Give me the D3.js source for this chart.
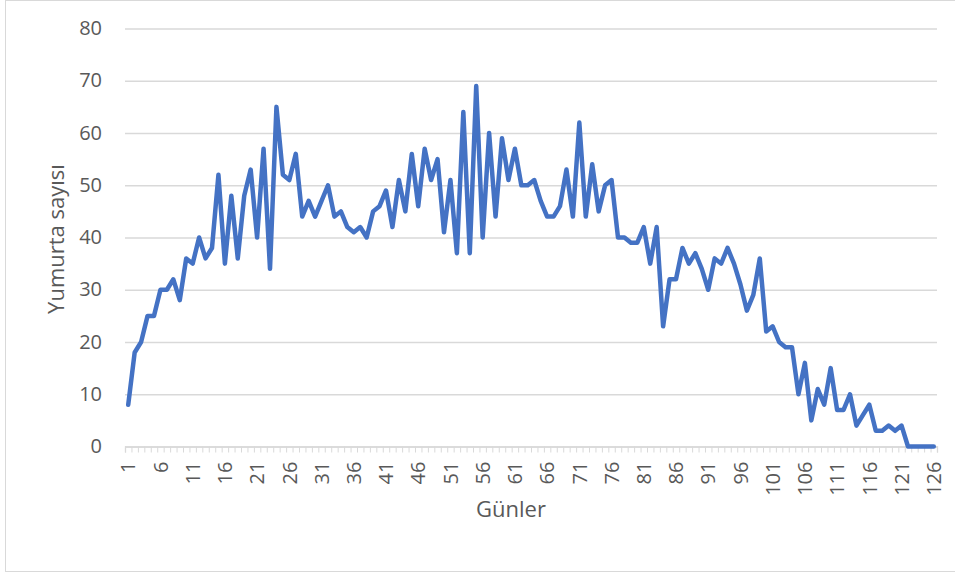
<!DOCTYPE html>
<html>
<head>
<meta charset="utf-8">
<script src="https://cdn.jsdelivr.net/npm/d3@7"></script>
<style>
  html, body { margin: 0; padding: 0; background: #ffffff; }
  svg { display: block; }
  text { font-family: "Open Sans", "Noto Sans", sans-serif; fill: #595959; }
</style>
</head>
<body>
<svg id="chart" width="955" height="574"></svg>
<script>
// Daily egg counts (Yumurta sayısı) over 126 days (Günler)
const days = d3.range(1, 127);
const eggs = [
  8, 18, 20, 25, 25, 30, 30, 32, 28, 36,
  35, 40, 36, 38, 52, 35, 48, 36, 48, 53,
  40, 57, 34, 65, 52, 51, 56, 44, 47, 44,
  47, 50, 44, 45, 42, 41, 42, 40, 45, 46,
  49, 42, 51, 45, 56, 46, 57, 51, 55, 41,
  51, 37, 64, 37, 69, 40, 60, 44, 59, 51,
  57, 50, 50, 51, 47, 44, 44, 46, 53, 44,
  62, 44, 54, 45, 50, 51, 40, 40, 39, 39,
  42, 35, 42, 23, 32, 32, 38, 35, 37, 34,
  30, 36, 35, 38, 35, 31, 26, 29, 36, 22,
  23, 20, 19, 19, 10, 16, 5, 11, 8, 15,
  7, 7, 10, 4, 6, 8, 3, 3, 4, 3,
  4, 0, 0, 0, 0, 0
];
const yTicks = [0, 10, 20, 30, 40, 50, 60, 70, 80];
const xLabelDays = days.filter(d => (d - 1) % 5 === 0);

const xTitle = "Günler";
const yTitle = "Yumurta sayısı";

const svg = d3.select("#chart");
const plot = { left: 125, right: 937, top: 28.5, bottom: 446.5 };

// outer chart frame
svg.append("rect")
  .attr("x", 5.5).attr("y", 0.5)
  .attr("width", 960).attr("height", 571)
  .attr("fill", "none").attr("stroke", "#d9d9d9").attr("stroke-width", 1);

const x = d3.scaleBand().domain(days).range([plot.left, plot.right]).padding(0);
const xEdge = d3.scaleLinear().domain([0.5, days.length + 0.5]).range([plot.left, plot.right]);
const y = d3.scaleLinear().domain([0, 80]).range([plot.bottom, plot.top]);

// horizontal gridlines + value labels
const yAxis = svg.append("g")
  .attr("transform", `translate(${plot.left},0)`)
  .call(d3.axisLeft(y).tickValues(yTicks).tickSize(-(plot.right - plot.left)).tickPadding(23));
yAxis.select(".domain").remove();
yAxis.selectAll(".tick line").attr("stroke", "#d9d9d9").attr("stroke-width", 1.3);
yAxis.selectAll(".tick text")
  .style("font-size", "20px").attr("fill", "#595959").attr("dy", "0.3em");

// category tick marks on band boundaries
const xTicksG = svg.append("g")
  .attr("transform", `translate(0,${plot.bottom})`)
  .call(d3.axisBottom(xEdge).tickValues(d3.range(0.5, days.length + 1, 1)).tickSize(6).tickFormat(""));
xTicksG.select(".domain").attr("stroke", "#d9d9d9").attr("stroke-width", 1.3);
xTicksG.selectAll(".tick line").attr("stroke", "#d9d9d9").attr("stroke-width", 1);

// rotated category labels every fifth day
const xLabels = svg.append("g")
  .attr("transform", `translate(0,${plot.bottom})`)
  .call(d3.axisBottom(x).tickValues(xLabelDays).tickSize(0).tickPadding(0));
xLabels.select(".domain").remove();
xLabels.selectAll(".tick text")
  .style("font-size", "20px")
  .attr("fill", "#595959")
  .attr("text-anchor", "end")
  .attr("transform", "rotate(-90)")
  .attr("x", -15)
  .attr("y", 0)
  .attr("dy", "0.36em");

// data line
const line = d3.line()
  .x((d, i) => x(days[i]) + x.bandwidth() / 2)
  .y(d => y(d));
svg.append("path")
  .datum(eggs)
  .attr("d", line)
  .attr("fill", "none")
  .attr("stroke", "#4472C4")
  .attr("stroke-width", 4.5)
  .attr("stroke-linejoin", "round")
  .attr("stroke-linecap", "round");

// axis titles
svg.append("text")
  .attr("x", 511)
  .attr("y", 516.5)
  .attr("text-anchor", "middle")
  .style("font-size", "22px")
  .text(xTitle);

svg.append("text")
  .attr("transform", "translate(63.5,239) rotate(-90)")
  .attr("text-anchor", "middle")
  .style("font-size", "22px")
  .text(yTitle);
</script>
</body>
</html>
